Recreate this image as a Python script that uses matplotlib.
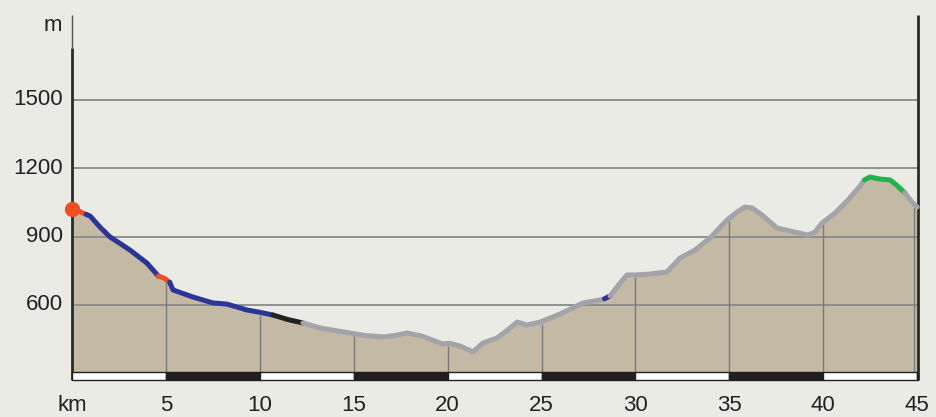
import numpy as np
import matplotlib.pyplot as plt

plt.rcParams['font.family'] = ['Liberation Sans', 'DejaVu Sans']

# profile: distance (km) and elevation (m)
dist = [0.0, 0.4, 0.75, 0.96, 1.49, 2.02, 2.6, 3.09, 3.99, 4.6, 4.9, 5.2, 5.38,
        6.44, 7.51, 8.25, 9.32, 10.0, 10.7, 11.5, 12.3, 13.21, 14.8, 15.6, 16.56,
        17.2, 17.84, 18.6, 19.75, 20.1, 20.66, 21.35, 21.88, 22.63, 23.2, 23.7,
        24.23, 24.92, 25.98, 27.21, 28.1, 28.35, 28.65, 29.02, 29.55, 29.98, 30.78,
        31.68, 32.38, 33.17, 33.97, 34.88, 35.41, 35.83, 36.21, 36.74, 37.54, 38.23,
        39.19, 39.56, 39.94, 40.63, 41.32, 41.96, 42.2, 42.49, 43.02, 43.56, 43.9,
        44.35, 44.73, 45.0]
elev = [1021, 1010, 998, 991, 942, 899, 868, 841, 784, 727, 718, 700, 666,
        635, 609, 604, 578, 568, 556, 536, 521, 499, 477, 466, 460,
        466, 477, 464, 429, 432, 420, 394, 433, 455, 490, 525,
        512, 525, 560, 609, 622, 627, 640, 679, 732, 732, 736,
        745, 806, 841, 894, 973, 1008, 1030, 1026, 995, 938, 925,
        907, 920, 960, 1004, 1061, 1122, 1149, 1162, 1153, 1149, 1127,
        1092, 1052, 1030]

# colored sections along the track (start km, end km, colour)
seg_start = [0.0, 0.4, 0.75, 4.6, 5.2, 10.7, 12.3, 28.35, 28.65, 42.2, 44.35]
seg_end = [0.4, 0.75, 4.6, 5.2, 10.7, 12.3, 28.35, 28.65, 42.2, 44.35, 45.0]
seg_color = ['#222222', '#f04e23', '#2b3596', '#f04e23', '#2b3596', '#222222',
             '#a3a3a9', '#2b3596', '#a3a3a9', '#22b24c', '#a3a3a9']

y_ticks = [600, 900, 1200, 1500]
x_ticks = [5, 10, 15, 20, 25, 30, 35, 40, 45]

bg = '#ebebe6'
base = 306
bar_lo = 271

dist = np.array(dist)
elev = np.array(elev)

fig = plt.figure(figsize=(9.36, 4.17), dpi=100, facecolor=bg)
ax = fig.add_axes([0, 0, 1, 1])
ax.set_facecolor(bg)
ax.set_xlim(-3.834, 46.006)
ax.set_ylim(108.3, 1939)
ax.axis('off')

ax.fill_between(dist, base, elev, color='#c4b9a4', lw=0, zorder=1)

# horizontal grid
ax.hlines(y_ticks, 0, 45.05, color='#8a8a8a', lw=1.3, zorder=2)
# vertical grid under the profile
vx = np.array(x_ticks[:-1])
ax.vlines(vx, base, np.interp(vx, dist, elev) - 10, color='#7a7a7a', lw=1, zorder=2)
ax.vlines(44.85, base, 1030, color='#7a7a7a', lw=1, zorder=2)

# profile line
for s, e, c in zip(seg_start, seg_end, seg_color):
    m = (dist >= s - 1e-9) & (dist <= e + 1e-9)
    ax.plot(dist[m], elev[m], color=c, lw=3.6, solid_capstyle='round',
            solid_joinstyle='round', zorder=4)
ax.plot(dist[0], elev[0], 'o', color='#f04e23', ms=10, zorder=5)

# axes lines
ax.vlines(0, 1728, 1873, color='#555555', lw=1, zorder=3)
ax.vlines(0, bar_lo, 1728, color='#2a2a2a', lw=2, zorder=3)
ax.vlines(45.05, bar_lo, 1873, color='#2a2a2a', lw=2, zorder=3)

# distance bar
for i in range(9):
    ax.add_patch(plt.Rectangle((i * 5, bar_lo), 5, base - bar_lo,
                               facecolor='#231f20' if i % 2 else 'white',
                               edgecolor='#231f20', lw=1, zorder=3))
ax.add_patch(plt.Rectangle((45, bar_lo), 0.05, base - bar_lo,
                           facecolor='#231f20', edgecolor='#231f20', lw=1, zorder=3))

# labels
tc = '#222222'
fs = 16
ax.text(-1.0, 1829, 'm', ha='center', va='center', fontsize=fs, color=tc)
for v in y_ticks:
    ax.text(-0.5, v, str(v), ha='right', va='center', fontsize=fs, color=tc)
ax.text(0, 158, 'km', ha='center', va='center', fontsize=fs, color=tc)
for v in x_ticks:
    ax.text(v, 158, str(v), ha='center', va='center', fontsize=fs, color=tc)

plt.savefig('out.png', dpi=100, facecolor=bg)
